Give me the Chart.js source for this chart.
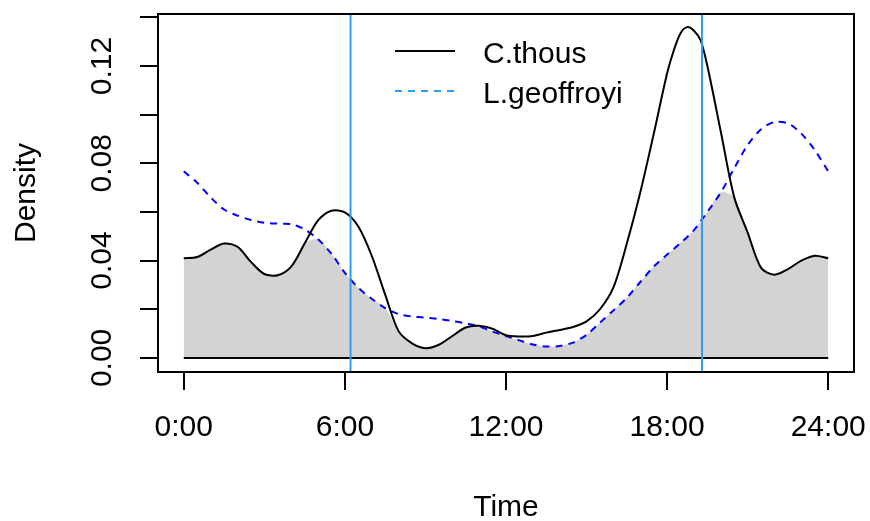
<!DOCTYPE html>
<html><head><meta charset="utf-8">
<script src="https://cdn.jsdelivr.net/npm/chart.js@4.4.1/dist/chart.umd.min.js"></script>
<style>html,body{margin:0;padding:0;background:#fff}</style>
</head><body>
<canvas id="c" width="870" height="521"></canvas>
<script>
const hours = [0,0.5,1,1.5,2,2.5,3,3.5,4,4.5,5,5.5,6,6.5,7,7.5,8,8.5,9,9.5,10,10.5,11,11.5,12,
  12.5,13,13.5,14,14.5,15,15.5,16,16.5,17,17.5,18,18.25,18.5,18.75,19,19.25,19.5,20,20.5,21,21.5,22,22.5,23,23.5,24];
const cThous = [0.041,0.0415,0.0445,0.047,0.0457,0.0395,0.0345,0.034,0.0375,0.047,0.0565,0.0605,0.0598,0.054,0.042,0.026,0.011,0.006,0.004,0.0054,0.009,0.0125,0.0132,0.012,0.0093,
  0.0088,0.009,0.0104,0.0115,0.0127,0.015,0.020,0.029,0.047,0.068,0.092,0.117,0.1265,0.1335,0.136,0.1345,0.1305,0.120,0.093,0.066,0.0515,0.037,0.0342,0.0365,0.040,0.042,0.041];
const lGeoffroyi = [0.0767,0.072,0.066,0.061,0.0585,0.0567,0.0556,0.0552,0.055,0.0528,0.0488,0.0428,0.035,0.0288,0.0243,0.0205,0.018,0.017,0.0166,0.016,0.0152,0.0142,0.013,0.0108,0.009,
  0.0072,0.0055,0.0047,0.0049,0.0063,0.0095,0.0145,0.0195,0.0247,0.0312,0.0375,0.0425,0.0448,0.0473,0.0497,0.0525,0.0562,0.060,0.068,0.078,0.0875,0.094,0.097,0.0964,0.0922,0.0854,0.0767];
const refLines = [6.21, 19.30];
const xTicks = [0,6,12,18,24];
const xTickLabels = ['0:00','6:00','12:00','18:00','24:00'];
const yTicks = [0,0.02,0.04,0.06,0.08,0.10,0.12,0.14];
const yTickLabels = ['0.00','','0.04','','0.08','','0.12',''];
const seriesNames = ['C.thous','L.geoffroyi'];
const xRange = [-0.96, 24.96];
const yRange = [-0.0058, 0.1414];

const FONT = 'Liberation Sans, Arial, sans-serif';
const overlap = hours.map((h,i)=>({x:h, y:Math.min(cThous[i], lGeoffroyi[i])}));
const toPts = arr => hours.map((h,i)=>({x:h, y:arr[i]}));

const datasets = [
  {label:'overlap', data: overlap, borderWidth:0, borderColor:'rgba(0,0,0,0)', backgroundColor:'#D3D3D3', fill:'origin', pointRadius:0, tension:0.3, order:5},
  {label:'base', data:[{x:hours[0],y:0},{x:hours[hours.length-1],y:0}], borderColor:'#000', borderWidth:2, pointRadius:0, fill:false, order:4},
  {label:seriesNames[0], data: toPts(cThous), borderColor:'#000', borderWidth:2, pointRadius:0, fill:false, tension:0.3, order:2},
  {label:seriesNames[1], data: toPts(lGeoffroyi), borderColor:'#0000FF', borderWidth:2, borderDash:[7,6], pointRadius:0, fill:false, tension:0.3, order:3},
];
refLines.forEach((v,i)=>datasets.push({label:'ref'+i, data:[{x:v,y:yRange[0]},{x:v,y:yRange[1]}], borderColor:'#2A9DF4', borderWidth:2, pointRadius:0, fill:false, order:1}));

const decor = {
  id:'decor',
  afterDraw(chart){
    const ctx = chart.ctx, a = chart.chartArea, ys = chart.scales.y;
    ctx.save();
    ctx.strokeStyle = '#000'; ctx.lineWidth = 2;
    ctx.strokeRect(a.left, a.top, a.right - a.left, a.bottom - a.top);
    ctx.fillStyle = '#000';
    ctx.font = '30px ' + FONT;
    ctx.textAlign = 'center'; ctx.textBaseline = 'middle';
    yTicks.forEach((v,i)=>{
      if(!yTickLabels[i]) return;
      const py = ys.getPixelForValue(v);
      ctx.save(); ctx.translate(103, py); ctx.rotate(-Math.PI/2);
      ctx.fillText(yTickLabels[i], 0, 0); ctx.restore();
    });
    const lx0 = 395, lx1 = 455, tx = 483;
    const rows = [51, 91];
    ctx.lineWidth = 2;
    ctx.strokeStyle = '#000'; ctx.setLineDash([]);
    ctx.beginPath(); ctx.moveTo(lx0, rows[0]); ctx.lineTo(lx1, rows[0]); ctx.stroke();
    ctx.strokeStyle = '#2A9DF4'; ctx.setLineDash([7,6]);
    ctx.beginPath(); ctx.moveTo(lx0, rows[1]); ctx.lineTo(lx1, rows[1]); ctx.stroke();
    ctx.setLineDash([]);
    ctx.textAlign = 'left';
    ctx.fillText(seriesNames[0], tx, rows[0]+4);
    ctx.fillText(seriesNames[1], tx, rows[1]+4);
    ctx.restore();
  }
};

new Chart(document.getElementById('c'), {
  type:'line',
  data:{datasets},
  options:{
    responsive:false, animation:false, devicePixelRatio:1,
    layout:{padding:{top:14, right:16, left:0, bottom:0}},
    plugins:{legend:{display:false}, tooltip:{enabled:false}},
    scales:{
      x:{type:'linear', min:xRange[0], max:xRange[1],
        afterBuildTicks: s => { s.ticks = xTicks.map(v=>({value:v})); },
        afterFit: s => { s.height = 149; s.paddingLeft = 0; s.paddingRight = 0; },
        ticks:{callback:(v)=>{const i = xTicks.indexOf(v); return i>=0 ? xTickLabels[i] : '';}, color:'#000', font:{size:30, family:FONT}, padding:20, maxRotation:0, autoSkip:false},
        grid:{drawOnChartArea:false, drawTicks:true, tickLength:18, color:'#000', lineWidth:2},
        border:{display:true, color:'#000', width:2},
        title:{display:true, text:'Time', color:'#000', font:{size:30, family:FONT, lineHeight:0.9}, padding:{top:0,bottom:0}}
      },
      y:{type:'linear', min:yRange[0], max:yRange[1],
        afterBuildTicks: s => { s.ticks = yTicks.map(v=>({value:v})); },
        afterFit: s => { s.width = 158; s.paddingTop = 0; s.paddingBottom = 0; },
        ticks:{display:false},
        grid:{drawOnChartArea:false, drawTicks:true, tickLength:18, color:'#000', lineWidth:2},
        border:{display:true, color:'#000', width:2},
        title:{display:true, text:'Density', color:'#000', font:{size:30, family:FONT}, padding:{top:9,bottom:0}}
      }
    }
  },
  plugins:[decor]
});
</script>
</body></html>
